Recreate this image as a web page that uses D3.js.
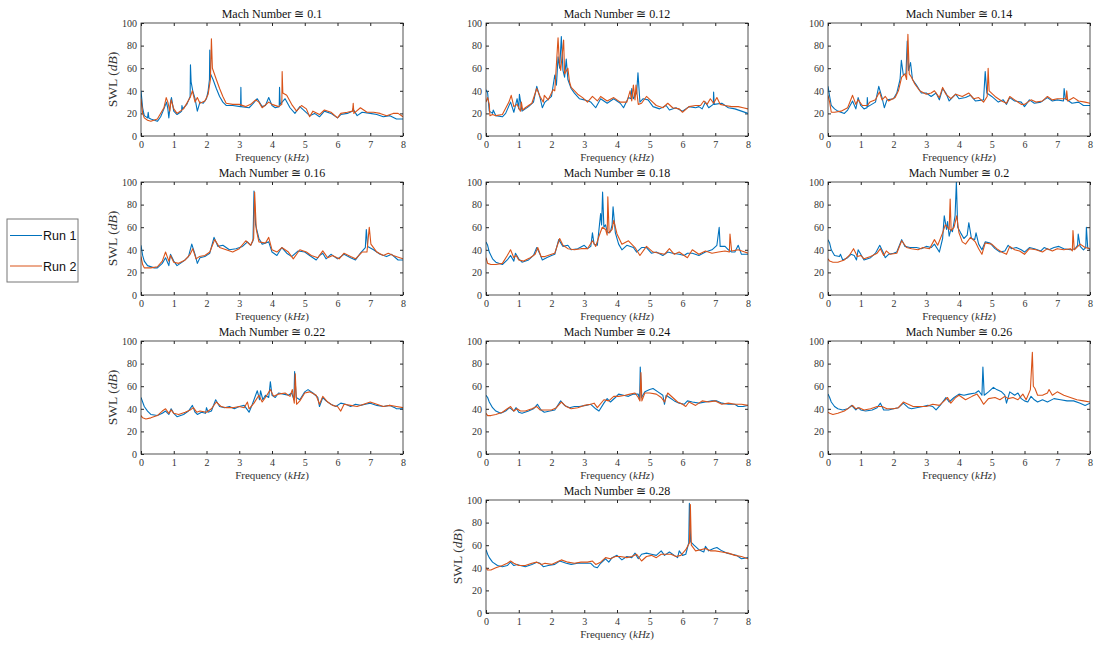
<!DOCTYPE html>
<html>
<head>
<meta charset="utf-8">
<script src="https://cdn.jsdelivr.net/npm/d3@7"></script>
<style>
  body { margin: 0; background: #fff; }
  .tick text { font-family: "Liberation Serif", "DejaVu Serif", serif; font-size: 10px; fill: #333; }
  .tick line { stroke: #262626; }
  .title { font-family: "Liberation Serif", "DejaVu Serif", serif; font-size: 12px; fill: #111; }
  .alabel { font-family: "Liberation Serif", "DejaVu Serif", serif; font-size: 11px; fill: #333; }
</style>
</head>
<body>
<div id="chart"></div>
<script>
// mach numbers of the panels
var machLabels = ['0.1', '0.12', '0.14', '0.16', '0.18', '0.2', '0.22', '0.24', '0.26', '0.28'];

// x axis ticks (kHz) and y axis ticks (dB)
var xTicks = [0, 1, 2, 3, 4, 5, 6, 7, 8];
var yTicks = [0, 20, 40, 60, 80, 100];

// series: [frequency kHz, SWL dB]
var run1_m010 = [[0,40],[0.05,25],[0.1,18],[0.2,16],[0.22,21],[0.24,16],[0.3,15],[0.5,13],[0.6,17],[0.7,24],[0.78,30],[0.82,24],[0.85,16],[0.9,30],[0.93,34],[1.0,22],[1.1,19],[1.2,21],[1.24,22],[1.25,27],[1.27,24],[1.4,28],[1.5,35],[1.51,63],[1.53,48],[1.58,40],[1.65,33],[1.72,22],[1.8,30],[1.9,29],[2.0,33],[2.05,40],[2.09,50],[2.1,76],[2.12,55],[2.2,50],[2.3,42],[2.4,35],[2.5,30],[2.6,27],[2.8,27],[3.04,26],[3.05,43],[3.06,26],[3.3,25],[3.4,28],[3.55,33],[3.7,26],[3.8,27],[3.9,34],[4.0,27],[4.1,25],[4.22,26],[4.23,43],[4.25,28],[4.4,33],[4.55,25],[4.7,20],[4.85,26],[5.0,22],[5.15,18],[5.3,20],[5.45,17],[5.6,22],[5.8,20],[6.0,16],[6.1,19],[6.3,20],[6.45,22],[6.47,24],[6.6,18],[6.75,21],[7.0,20],[7.2,19],[7.4,17],[7.6,18],[7.8,15],[8.0,15]];
var run2_m010 = [[0,33],[0.05,20],[0.1,16],[0.2,14],[0.3,13],[0.5,15],[0.7,25],[0.77,34],[0.82,30],[0.88,22],[0.92,32],[1.0,24],[1.1,20],[1.3,24],[1.5,34],[1.57,40],[1.65,30],[1.72,34],[1.8,29],[1.95,31],[2.05,37],[2.12,50],[2.15,86],[2.18,60],[2.3,50],[2.4,42],[2.5,35],[2.6,29],[2.8,28],[3.0,28],[3.2,26],[3.35,28],[3.5,32],[3.6,30],[3.7,25],[3.9,30],[4.0,28],[4.2,26],[4.3,28],[4.31,57],[4.33,38],[4.45,36],[4.6,28],[4.75,22],[4.9,27],[5.05,24],[5.15,17],[5.25,22],[5.45,19],[5.6,23],[5.8,21],[6.0,16],[6.1,20],[6.3,21],[6.46,22],[6.48,29],[6.5,20],[6.7,25],[6.9,21],[7.1,21],[7.3,20],[7.5,18],[7.7,20],[7.85,20],[8.0,17]];

var run1_m012 = [[0,41],[0.05,38],[0.1,22],[0.2,20],[0.22,23],[0.3,18],[0.5,17],[0.6,20],[0.75,30],[0.85,21],[0.95,33],[1.0,24],[1.02,37],[1.1,22],[1.3,26],[1.45,30],[1.55,44],[1.65,34],[1.72,25],[1.8,30],[2.0,35],[2.1,54],[2.15,45],[2.2,70],[2.25,60],[2.3,88],[2.35,58],[2.4,52],[2.45,68],[2.5,50],[2.6,42],[2.7,38],[2.85,33],[3.0,32],[3.2,30],[3.35,25],[3.5,33],[3.7,29],[3.9,33],[4.1,29],[4.2,25],[4.35,34],[4.43,33],[4.45,42],[4.5,33],[4.6,38],[4.64,56],[4.7,30],[4.8,33],[4.95,32],[5.1,26],[5.3,24],[5.5,27],[5.6,23],[5.8,25],[6.0,22],[6.2,26],[6.4,25],[6.5,26],[6.6,24],[6.7,30],[6.8,25],[6.94,28],[6.95,39],[6.97,28],[7.2,29],[7.4,25],[7.6,24],[7.8,22],[8.0,20]];
var run2_m012 = [[0,30],[0.05,34],[0.1,28],[0.12,18],[0.2,19],[0.3,18],[0.5,19],[0.7,30],[0.77,36],[0.85,26],[0.95,28],[1.05,22],[1.08,30],[1.12,23],[1.2,25],[1.4,29],[1.55,42],[1.65,35],[1.75,30],[1.78,36],[1.9,32],[2.0,38],[2.05,41],[2.1,40],[2.2,87],[2.24,65],[2.28,58],[2.37,85],[2.4,55],[2.5,60],[2.55,48],[2.6,43],[2.8,37],[2.95,34],[3.1,30],[3.25,35],[3.4,31],[3.5,35],[3.7,31],[3.9,34],[4.1,30],[4.3,30],[4.4,40],[4.45,31],[4.5,45],[4.55,32],[4.58,45],[4.65,28],[4.75,29],[4.9,35],[5.05,31],[5.2,27],[5.4,25],[5.55,29],[5.7,25],[5.9,24],[6.0,21],[6.2,26],[6.4,27],[6.55,27],[6.65,31],[6.75,28],[6.85,33],[6.95,29],[7.05,34],[7.15,28],[7.3,27],[7.5,26],[7.7,26],[7.85,25],[8.0,24]];

var run1_m014 = [[0,44],[0.05,35],[0.1,27],[0.2,24],[0.3,22],[0.5,20],[0.6,23],[0.75,31],[0.85,24],[0.92,34],[1.0,27],[1.1,24],[1.19,25],[1.2,34],[1.22,26],[1.45,30],[1.55,44],[1.65,34],[1.72,25],[1.8,32],[2.0,33],[2.1,38],[2.2,50],[2.24,67],[2.3,54],[2.38,55],[2.42,84],[2.46,58],[2.52,65],[2.58,50],[2.7,45],[2.85,38],[3.0,38],[3.15,35],[3.3,38],[3.4,32],[3.5,42],[3.6,38],[3.7,31],[3.9,37],[4.0,33],[4.2,34],[4.35,36],[4.5,31],[4.75,32],[4.8,57],[4.85,38],[5.0,35],[5.2,30],[5.35,32],[5.45,28],[5.55,34],[5.7,31],[5.9,30],[6.0,26],[6.15,32],[6.3,29],[6.5,30],[6.7,34],[6.85,31],[7.0,32],[7.19,31],[7.21,42],[7.25,33],[7.45,29],[7.65,30],[7.8,27],[8.0,27]];
var run2_m014 = [[0,36],[0.05,30],[0.1,21],[0.2,21],[0.4,22],[0.6,25],[0.75,36],[0.85,28],[0.92,32],[1.05,27],[1.2,27],[1.28,30],[1.45,32],[1.57,39],[1.65,32],[1.75,35],[1.85,31],[2.05,34],[2.15,40],[2.25,52],[2.35,55],[2.4,50],[2.44,90],[2.48,55],[2.55,52],[2.65,46],[2.8,40],[3.0,37],[3.15,38],[3.25,40],[3.4,34],[3.5,43],[3.6,37],[3.75,33],[3.9,37],[4.1,35],[4.3,38],[4.45,33],[4.6,34],[4.75,30],[4.86,35],[4.89,60],[4.92,40],[5.1,35],[5.3,31],[5.45,29],[5.55,35],[5.7,32],[5.9,28],[6.0,28],[6.2,32],[6.35,30],[6.55,31],[6.7,35],[6.85,32],[7.0,33],[7.27,33],[7.29,40],[7.32,31],[7.5,34],[7.65,31],[7.85,30],[8.0,29]];

var run1_m016 = [[0,44],[0.05,35],[0.1,30],[0.2,26],[0.4,24],[0.5,24],[0.65,28],[0.75,33],[0.85,26],[0.9,36],[1.0,30],[1.1,26],[1.3,30],[1.45,34],[1.55,45],[1.65,36],[1.72,28],[1.8,33],[1.95,34],[2.1,37],[2.23,51],[2.35,43],[2.5,44],[2.7,40],[2.9,41],[3.1,43],[3.25,47],[3.35,44],[3.42,48],[3.45,92],[3.5,62],[3.6,50],[3.7,45],[3.9,47],[4.0,38],[4.15,35],[4.3,42],[4.45,37],[4.6,34],[4.8,39],[5.0,38],[5.15,35],[5.35,31],[5.45,35],[5.55,37],[5.65,32],[5.8,36],[6.0,32],[6.2,36],[6.4,33],[6.55,31],[6.7,37],[6.85,42],[6.88,58],[6.92,43],[7.1,40],[7.3,36],[7.5,34],[7.65,36],[7.85,31],[8.0,31]];
var run2_m016 = [[0,34],[0.05,27],[0.1,24],[0.3,24],[0.5,25],[0.65,30],[0.75,38],[0.85,30],[0.9,35],[1.0,29],[1.15,28],[1.35,31],[1.5,36],[1.58,41],[1.68,32],[1.78,34],[1.95,35],[2.1,38],[2.25,49],[2.4,42],[2.6,40],[2.8,38],[3.0,41],[3.2,48],[3.35,44],[3.44,50],[3.47,91],[3.52,58],[3.6,47],[3.8,46],[3.9,51],[4.0,40],[4.15,38],[4.3,42],[4.5,38],[4.65,32],[4.85,40],[5.05,38],[5.2,35],[5.4,33],[5.55,39],[5.7,33],[5.85,35],[6.05,32],[6.2,37],[6.4,34],[6.55,32],[6.75,38],[6.9,38],[6.97,60],[7.02,45],[7.2,38],[7.4,35],[7.55,37],[7.7,35],[7.9,33],[8.0,32]];

var run1_m018 = [[0,47],[0.05,44],[0.1,38],[0.2,32],[0.3,29],[0.5,27],[0.65,31],[0.75,35],[0.85,30],[0.9,37],[1.0,32],[1.1,29],[1.3,31],[1.45,35],[1.55,42],[1.65,36],[1.72,31],[1.85,33],[2.0,35],[2.1,36],[2.22,49],[2.35,43],[2.5,44],[2.6,40],[2.8,41],[3.0,44],[3.1,41],[3.2,43],[3.25,55],[3.3,45],[3.4,44],[3.5,72],[3.53,62],[3.56,91],[3.6,60],[3.65,62],[3.7,56],[3.75,55],[3.8,56],[3.85,62],[3.88,78],[3.95,55],[4.05,45],[4.15,40],[4.3,44],[4.5,42],[4.6,38],[4.75,42],[4.9,42],[5.05,37],[5.2,38],[5.4,35],[5.55,38],[5.7,37],[5.9,36],[6.05,35],[6.15,37],[6.3,37],[6.5,35],[6.7,38],[6.9,40],[7.05,44],[7.12,60],[7.15,43],[7.3,43],[7.4,40],[7.5,38],[7.6,38],[7.7,44],[7.8,36],[8.0,36]];
var run2_m018 = [[0,33],[0.05,28],[0.15,27],[0.3,27],[0.5,28],[0.65,35],[0.75,40],[0.85,33],[0.92,35],[1.0,31],[1.15,30],[1.35,33],[1.5,36],[1.58,42],[1.68,34],[1.8,34],[2.0,36],[2.1,37],[2.25,50],[2.35,44],[2.5,41],[2.7,40],[2.9,41],[3.1,41],[3.25,48],[3.35,43],[3.45,52],[3.55,60],[3.65,58],[3.7,53],[3.72,87],[3.76,55],[3.85,58],[3.9,66],[4.0,54],[4.15,45],[4.35,48],[4.55,42],[4.7,35],[4.9,43],[5.1,38],[5.3,37],[5.45,36],[5.6,41],[5.75,36],[5.9,38],[6.05,35],[6.15,33],[6.3,40],[6.5,36],[6.7,39],[6.9,37],[7.1,38],[7.3,39],[7.43,38],[7.45,54],[7.5,39],[7.7,40],[7.9,38],[8.0,37]];

var run1_m020 = [[0,49],[0.05,46],[0.1,40],[0.2,35],[0.35,34],[0.38,36],[0.45,31],[0.6,33],[0.7,36],[0.8,35],[0.87,31],[0.92,40],[1.0,36],[1.1,31],[1.3,33],[1.45,37],[1.58,44],[1.68,38],[1.75,33],[1.85,36],[2.0,37],[2.1,38],[2.25,49],[2.35,43],[2.5,42],[2.7,42],[2.85,41],[3.0,43],[3.15,42],[3.25,45],[3.4,38],[3.5,50],[3.55,70],[3.62,58],[3.65,65],[3.7,52],[3.75,58],[3.8,56],[3.88,70],[3.92,100],[3.96,60],[4.05,55],[4.15,50],[4.25,53],[4.3,64],[4.38,50],[4.48,49],[4.52,55],[4.6,45],[4.7,40],[4.8,47],[4.95,46],[5.1,41],[5.25,38],[5.4,39],[5.5,44],[5.6,41],[5.75,42],[5.9,40],[6.0,38],[6.15,42],[6.3,41],[6.5,39],[6.6,42],[6.75,40],[6.9,42],[7.05,43],[7.2,41],[7.4,40],[7.55,41],[7.62,44],[7.64,54],[7.7,43],[7.8,40],[7.87,42],[7.89,60],[7.93,42],[8.0,40]];
var run2_m020 = [[0,32],[0.05,30],[0.15,29],[0.3,29],[0.5,31],[0.65,35],[0.78,41],[0.9,34],[1.0,35],[1.1,32],[1.3,34],[1.5,37],[1.6,41],[1.7,35],[1.78,39],[1.9,36],[2.1,37],[2.25,48],[2.4,42],[2.55,41],[2.75,40],[2.9,42],[3.1,41],[3.25,49],[3.35,44],[3.5,55],[3.58,62],[3.65,60],[3.7,58],[3.73,85],[3.76,57],[3.85,60],[3.93,70],[4.0,55],[4.1,47],[4.2,45],[4.35,51],[4.5,47],[4.6,41],[4.7,36],[4.8,46],[5.0,45],[5.15,41],[5.3,38],[5.45,36],[5.55,43],[5.7,40],[5.85,39],[6.0,36],[6.15,41],[6.35,40],[6.55,38],[6.7,41],[6.85,39],[7.0,41],[7.2,40],[7.4,41],[7.46,39],[7.48,57],[7.52,40],[7.7,45],[7.85,42],[8.0,41]];

var run1_m022 = [[0,50],[0.05,46],[0.1,42],[0.2,38],[0.3,35],[0.5,34],[0.65,36],[0.75,38],[0.85,35],[0.92,40],[1.0,36],[1.1,33],[1.3,35],[1.45,38],[1.57,43],[1.65,37],[1.72,35],[1.85,37],[1.97,36],[2.0,41],[2.05,37],[2.15,38],[2.28,48],[2.4,42],[2.55,41],[2.7,42],[2.85,40],[3.0,42],[3.15,43],[3.3,37],[3.4,44],[3.55,56],[3.62,48],[3.65,56],[3.72,48],[3.8,52],[3.9,50],[3.95,64],[4.0,52],[4.1,50],[4.2,54],[4.35,53],[4.5,52],[4.6,54],[4.67,48],[4.69,73],[4.74,50],[4.85,48],[5.0,55],[5.1,57],[5.25,54],[5.4,50],[5.45,42],[5.55,50],[5.65,47],[5.8,44],[5.95,42],[6.1,45],[6.25,44],[6.4,42],[6.55,44],[6.7,43],[6.85,44],[7.0,45],[7.2,43],[7.4,42],[7.6,43],[7.75,41],[7.8,40],[8.0,40]];
var run2_m022 = [[0,34],[0.05,32],[0.15,31],[0.3,32],[0.5,34],[0.65,38],[0.75,40],[0.85,36],[0.92,39],[1.0,36],[1.15,35],[1.35,37],[1.5,39],[1.6,41],[1.7,37],[1.8,38],[2.0,37],[2.15,40],[2.3,46],[2.45,42],[2.6,41],[2.8,41],[3.0,42],[3.15,41],[3.25,46],[3.3,40],[3.45,45],[3.6,52],[3.7,46],[3.8,50],[3.95,57],[4.05,51],[4.2,53],[4.4,54],[4.55,51],[4.62,57],[4.68,45],[4.71,71],[4.75,44],[4.85,47],[5.0,54],[5.15,55],[5.35,52],[5.45,44],[5.55,51],[5.7,46],[5.85,43],[6.0,42],[6.1,38],[6.2,44],[6.4,43],[6.6,42],[6.8,44],[7.0,46],[7.2,44],[7.4,42],[7.6,43],[7.8,42],[8.0,41]];

var run1_m024 = [[0,52],[0.05,50],[0.1,46],[0.2,41],[0.3,38],[0.45,36],[0.6,38],[0.72,41],[0.85,38],[0.92,41],[1.0,37],[1.1,36],[1.3,38],[1.45,40],[1.57,44],[1.68,39],[1.78,37],[1.95,38],[2.1,39],[2.28,47],[2.4,43],[2.55,41],[2.7,42],[2.85,42],[3.05,43],[3.2,44],[3.35,40],[3.45,38],[3.6,45],[3.7,49],[3.8,46],[3.95,50],[4.05,53],[4.2,52],[4.35,51],[4.5,53],[4.65,53],[4.69,48],[4.71,77],[4.75,50],[4.85,55],[5.0,57],[5.1,58],[5.25,55],[5.4,52],[5.45,44],[5.5,52],[5.6,50],[5.75,47],[5.9,45],[6.05,44],[6.15,47],[6.3,46],[6.5,45],[6.7,46],[6.9,47],[7.05,47],[7.2,45],[7.4,44],[7.6,44],[7.7,42],[7.85,42],[8.0,43]];
var run2_m024 = [[0,36],[0.05,34],[0.15,34],[0.3,35],[0.5,37],[0.65,40],[0.75,42],[0.85,38],[0.95,40],[1.05,38],[1.2,38],[1.4,40],[1.55,42],[1.65,39],[1.8,39],[2.0,39],[2.15,41],[2.3,46],[2.45,42],[2.6,40],[2.8,41],[3.0,43],[3.2,44],[3.3,45],[3.4,41],[3.6,48],[3.75,47],[3.9,51],[4.05,51],[4.25,52],[4.4,53],[4.55,54],[4.65,50],[4.7,47],[4.73,72],[4.76,47],[4.85,54],[5.0,54],[5.2,53],[5.35,50],[5.45,46],[5.55,54],[5.7,50],[5.85,46],[6.0,44],[6.1,42],[6.2,46],[6.4,43],[6.6,47],[6.8,46],[7.0,47],[7.2,44],[7.4,45],[7.6,44],[7.8,44],[8.0,43]];

var run1_m026 = [[0,53],[0.05,50],[0.1,46],[0.2,42],[0.3,40],[0.45,39],[0.6,40],[0.72,43],[0.85,39],[0.92,41],[1.0,39],[1.15,38],[1.35,39],[1.5,41],[1.6,45],[1.7,39],[1.85,39],[2.0,40],[2.15,41],[2.3,45],[2.45,41],[2.55,40],[2.7,41],[2.9,42],[3.05,43],[3.2,42],[3.3,39],[3.45,44],[3.6,50],[3.7,46],[3.85,50],[4.0,53],[4.15,52],[4.3,53],[4.5,54],[4.6,56],[4.7,52],[4.73,77],[4.77,52],[4.9,55],[5.05,59],[5.15,57],[5.3,55],[5.4,52],[5.45,45],[5.55,55],[5.7,52],[5.8,54],[5.9,49],[6.0,47],[6.1,46],[6.2,51],[6.3,48],[6.4,46],[6.55,48],[6.7,46],[6.9,49],[7.1,48],[7.3,47],[7.5,47],[7.7,45],[7.85,43],[8.0,45]];
var run2_m026 = [[0,37],[0.05,36],[0.15,35],[0.3,36],[0.5,38],[0.65,41],[0.75,43],[0.85,40],[0.95,41],[1.1,39],[1.3,40],[1.5,42],[1.65,42],[1.8,40],[2.0,40],[2.15,41],[2.3,46],[2.45,44],[2.6,42],[2.8,42],[3.0,42],[3.2,44],[3.4,43],[3.55,47],[3.65,50],[3.75,45],[3.9,50],[4.0,52],[4.2,48],[4.4,51],[4.55,53],[4.65,49],[4.75,44],[4.9,49],[5.1,50],[5.25,48],[5.4,51],[5.5,49],[5.65,50],[5.8,48],[5.95,53],[6.05,48],[6.18,57],[6.24,90],[6.27,60],[6.32,58],[6.4,52],[6.55,52],[6.7,54],[6.75,57],[6.85,52],[7.0,55],[7.2,52],[7.4,50],[7.6,48],[7.8,47],[8.0,46]];

var run1_m028 = [[0,56],[0.05,52],[0.1,49],[0.2,45],[0.35,42],[0.5,41],[0.65,42],[0.75,45],[0.85,42],[0.95,43],[1.05,42],[1.2,41],[1.4,43],[1.55,45],[1.65,44],[1.75,41],[1.9,42],[2.1,43],[2.25,46],[2.45,44],[2.6,43],[2.8,44],[3.0,44],[3.2,44],[3.3,41],[3.4,40],[3.5,44],[3.65,48],[3.75,45],[3.85,49],[4.0,51],[4.15,47],[4.3,50],[4.45,49],[4.55,53],[4.65,48],[4.75,52],[4.9,53],[5.05,52],[5.2,51],[5.35,55],[5.45,51],[5.6,54],[5.75,51],[5.85,49],[5.9,55],[6.0,51],[6.1,52],[6.19,62],[6.21,97],[6.25,63],[6.35,60],[6.5,56],[6.65,54],[6.7,59],[6.8,55],[6.95,57],[7.05,58],[7.2,55],[7.35,53],[7.5,52],[7.65,51],[7.8,48],[8.0,49]];
var run2_m028 = [[0,40],[0.05,38],[0.15,38],[0.3,40],[0.5,42],[0.65,44],[0.75,46],[0.85,44],[1.0,42],[1.2,42],[1.4,44],[1.55,45],[1.7,43],[1.8,44],[2.0,43],[2.15,45],[2.3,47],[2.5,45],[2.7,44],[2.9,45],[3.1,45],[3.25,46],[3.35,43],[3.5,45],[3.65,49],[3.8,48],[3.95,50],[4.1,50],[4.3,49],[4.45,50],[4.6,52],[4.75,46],[4.9,50],[5.05,51],[5.2,49],[5.35,52],[5.5,52],[5.65,52],[5.8,50],[5.95,51],[6.1,56],[6.21,62],[6.24,96],[6.27,60],[6.4,55],[6.55,56],[6.7,57],[6.85,55],[7.0,55],[7.2,54],[7.4,53],[7.6,51],[7.8,50],[8.0,48]];

var run1Series = [run1_m010, run1_m012, run1_m014, run1_m016, run1_m018, run1_m020, run1_m022, run1_m024, run1_m026, run1_m028];
var run2Series = [run2_m010, run2_m012, run2_m014, run2_m016, run2_m018, run2_m020, run2_m022, run2_m024, run2_m026, run2_m028];

var legendLabels = ['Run 1', 'Run 2'];
var colors = ['#0072BD', '#D95319'];

// page and panel layout
var svgWidth = 1094;
var svgHeight = 645;
var plotW = 262;
var plotH = 113;
var colX = [141, 486, 828];
var rowY = [23, 182, 341, 500];

// panel grid positions (col, row); last panel sits in the middle column
var panelPos = [[0,0],[1,0],[2,0],[0,1],[1,1],[2,1],[0,2],[1,2],[2,2],[1,3]];

var svg = d3.select('#chart')
  .append('svg')
  .attr('width', svgWidth)
  .attr('height', svgHeight);

var xScale = d3.scaleLinear().domain([0, 8]).range([0, plotW]);
var yScale = d3.scaleLinear().domain([0, 100]).range([plotH, 0]);

var line = d3.line()
  .x(d => xScale(d[0]))
  .y(d => yScale(d[1]));

machLabels.forEach(function(mach, i) {
  var col = panelPos[i][0];
  var row = panelPos[i][1];

  var g = svg.append('g')
    .attr('transform', `translate(${colX[col]}, ${rowY[row]})`);

  // clip for the lines
  g.append('clipPath')
    .attr('id', 'clip' + i)
    .append('rect')
    .attr('width', plotW)
    .attr('height', plotH);

  // bottom axis with labels, ticks inside
  g.append('g')
    .attr('transform', `translate(0, ${plotH})`)
    .call(d3.axisBottom(xScale).tickValues(xTicks).tickSizeInner(-3).tickSizeOuter(0).tickPadding(5))
    .call(a => a.select('.domain').remove());

  // top mirror ticks
  g.append('g')
    .call(d3.axisTop(xScale).tickValues(xTicks).tickSizeInner(-3).tickSizeOuter(0).tickFormat(''))
    .call(a => a.select('.domain').remove());

  // left axis with labels
  g.append('g')
    .call(d3.axisLeft(yScale).tickValues(yTicks).tickSizeInner(-3).tickSizeOuter(0).tickPadding(4))
    .call(a => a.select('.domain').remove());

  // right mirror ticks
  g.append('g')
    .attr('transform', `translate(${plotW}, 0)`)
    .call(d3.axisRight(yScale).tickValues(yTicks).tickSizeInner(-3).tickSizeOuter(0).tickFormat(''))
    .call(a => a.select('.domain').remove());

  // the two runs, run 2 on top
  var lines = g.append('g').attr('clip-path', `url(#clip${i})`);
  [run1Series[i], run2Series[i]].forEach(function(series, k) {
    lines.append('path')
      .datum(series)
      .attr('fill', 'none')
      .attr('stroke', colors[k])
      .attr('stroke-width', 1.1)
      .attr('stroke-linejoin', 'round')
      .attr('d', line);
  });

  // box
  g.append('rect')
    .attr('width', plotW)
    .attr('height', plotH)
    .attr('fill', 'none')
    .attr('stroke', '#262626')
    .attr('stroke-width', 0.8);

  // title
  g.append('text')
    .classed('title', true)
    .attr('x', plotW / 2)
    .attr('y', -5)
    .attr('text-anchor', 'middle')
    .text('Mach Number \u2245 ' + mach);

  // x label
  var xl = g.append('text')
    .classed('alabel', true)
    .attr('x', plotW / 2)
    .attr('y', plotH + 25)
    .attr('text-anchor', 'middle');
  xl.append('tspan').text('Frequency (');
  xl.append('tspan').attr('font-style', 'italic').text('kHz');
  xl.append('tspan').text(')');

  // y label on the first column and on the last panel
  if (col === 0 || row === 3) {
    var yl = g.append('text')
      .classed('alabel', true)
      .attr('transform', `translate(-24, ${plotH / 2}) rotate(-90)`)
      .attr('text-anchor', 'middle')
      .style('font-size', '13.5px');
    yl.append('tspan').text('SWL (');
    yl.append('tspan').attr('font-style', 'italic').text('dB');
    yl.append('tspan').text(')');
  }
});

// legend
var legend = svg.append('g').attr('transform', 'translate(7, 219)');
legend.append('rect')
  .attr('width', 71)
  .attr('height', 63)
  .attr('fill', '#fff')
  .attr('stroke', '#777')
  .attr('stroke-width', 1);

legendLabels.forEach(function(label, k) {
  var y = 16.5 + k * 30.5;
  legend.append('line')
    .attr('x1', 3)
    .attr('x2', 35)
    .attr('y1', y)
    .attr('y2', y)
    .attr('stroke', colors[k])
    .attr('stroke-width', 1);
  legend.append('text')
    .attr('x', 36)
    .attr('y', y + 4.5)
    .style('font-family', '"Liberation Sans", Arial, sans-serif')
    .style('font-size', '12.5px')
    .style('fill', '#111')
    .text(label);
});
</script>
</body>
</html>
